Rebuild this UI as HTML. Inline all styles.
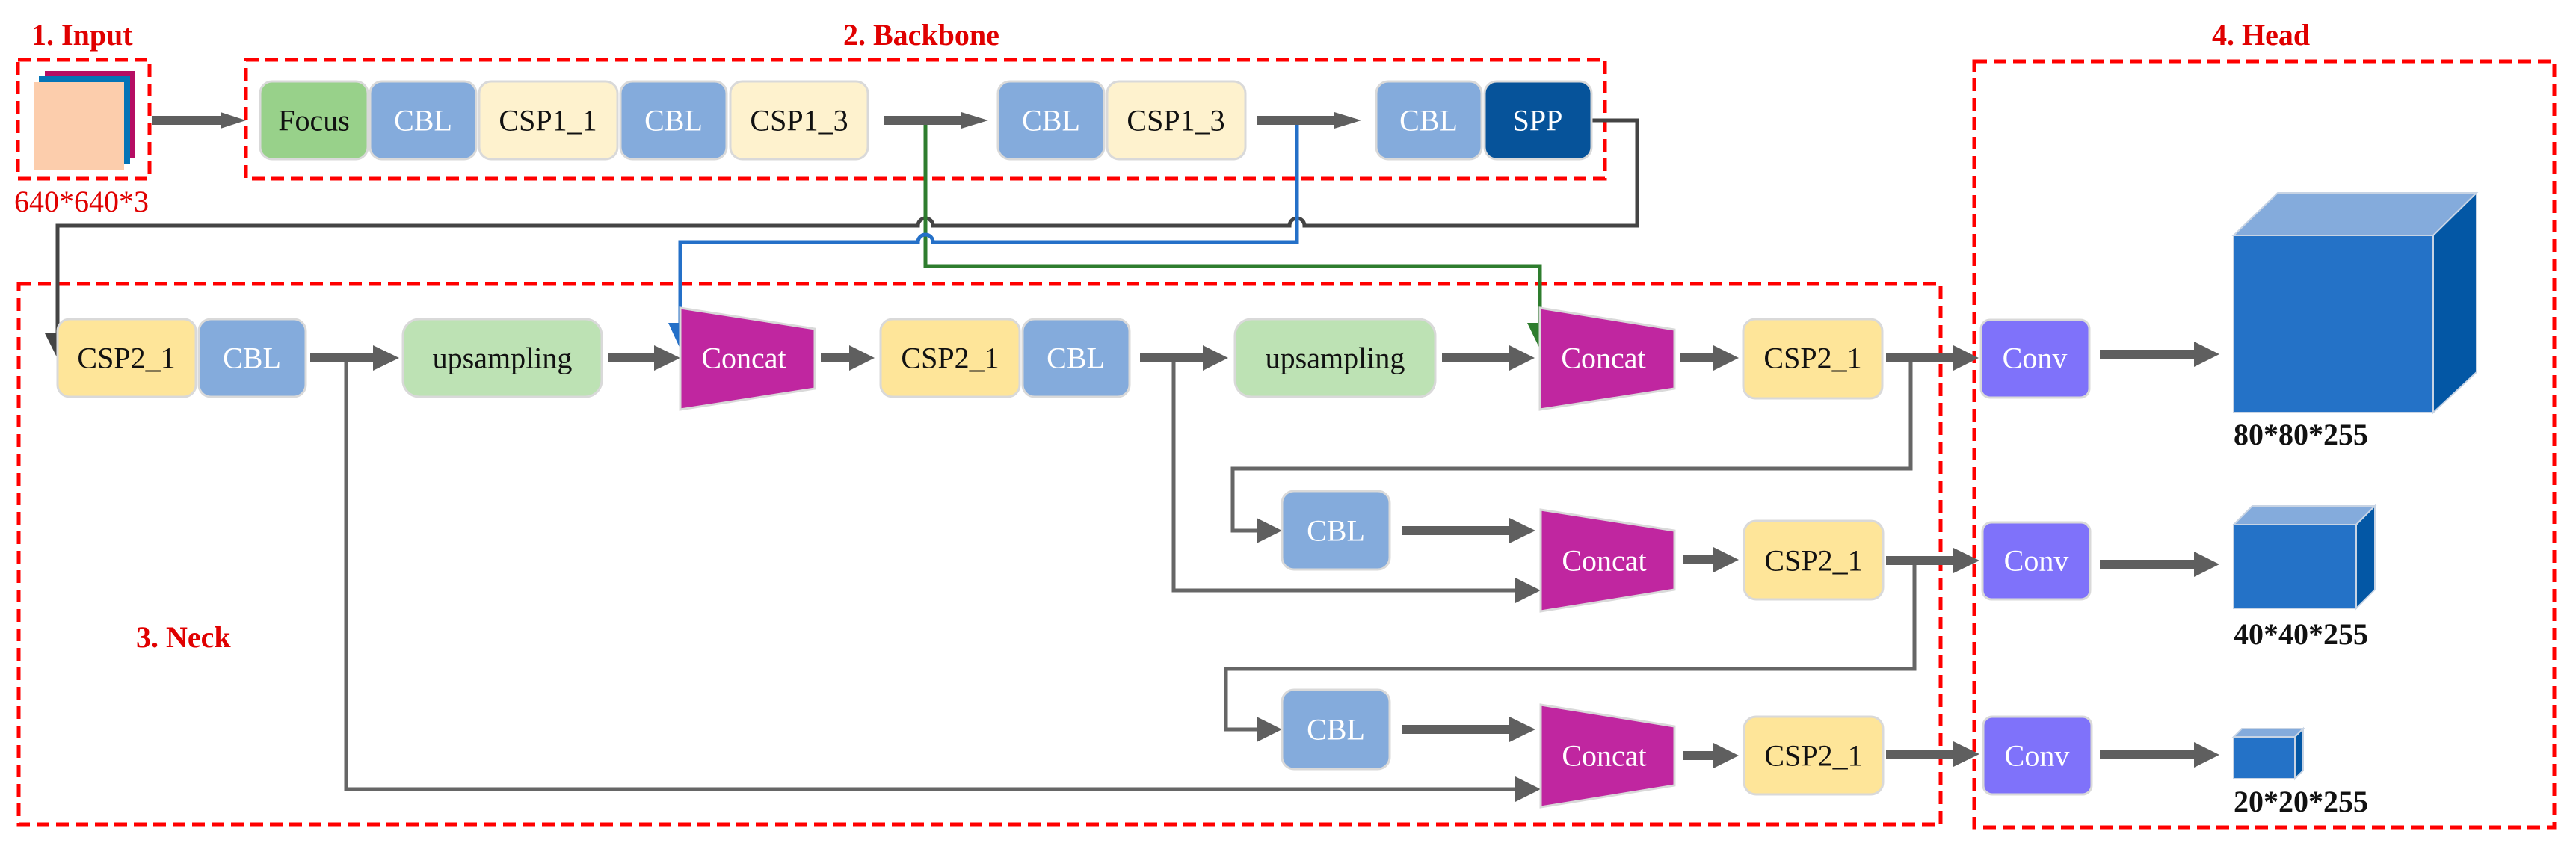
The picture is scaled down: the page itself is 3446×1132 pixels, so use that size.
<!DOCTYPE html>
<html><head><meta charset="utf-8"><style>
html,body{margin:0;padding:0;background:#fff;}
svg{display:block;font-family:"Liberation Serif","Times New Roman",serif;}
text{font-family:"Liberation Serif","Times New Roman",serif;}
</style></head><body>
<svg width="3446" height="1132" viewBox="0 0 3446 1132" xmlns="http://www.w3.org/2000/svg" font-family="Liberation Serif, serif">
<g fill="#e00000" font-weight="bold" font-size="40">
<text x="42" y="60">1. Input</text>
<text x="1128" y="60">2. Backbone</text>
<text x="2959" y="60">4. Head</text>
<text x="182" y="866">3. Neck</text>
</g>
<text x="19" y="283" fill="#e00000" font-size="40">640*640*3</text>

<g fill="none" stroke="#ff0000" stroke-width="5" stroke-dasharray="17 9">
<rect x="24" y="80" width="176" height="159"/>
<rect x="329" y="80" width="1818" height="159"/>
<rect x="25" y="380" width="2571" height="723"/>
<rect x="2641" y="82" width="776" height="1025"/>
</g>

<rect x="60" y="95" width="121" height="117" fill="#b50d63"/>
<rect x="52" y="102" width="122" height="118" fill="#0474b7"/>
<rect x="45" y="110" width="121" height="117" fill="#fccdac"/>

<g fill="none" stroke-width="5" stroke-linejoin="miter">
<path d="M2129 161 H2190 V302 H1745 A10 10 0 0 0 1725 302 H1248 A10 10 0 0 0 1228 302 H77 V450" stroke="#444"/>
<path d="M1238 161 V356 H2060 V436" stroke="#2e7d2e"/>
<path d="M1735 161 V324 H1248 A10 10 0 0 0 1228 324 H910 V436" stroke="#2470c8"/>
<path d="M463 479 V1056 H2030" stroke="#666"/>
<path d="M1570 479 V790 H2030" stroke="#666"/>
<path d="M2556 479 V627 H1649 V710 H1685" stroke="#666"/>
<path d="M2561 750 V895 H1640 V976 H1685" stroke="#666"/>
</g>
<g>
<polygon points="60,446 94,446 77,480" fill="#444"/>
<polygon points="2043,432 2078,432 2060,467" fill="#2e7d2e"/>
<polygon points="894,432 928,432 910,467" fill="#2470c8"/>
<polygon points="2027,1039 2061,1056 2027,1073" fill="#5f5f5f"/>
<polygon points="2027,773 2061,790 2027,807" fill="#5f5f5f"/>
<polygon points="1681,693 1715,710 1681,727" fill="#5f5f5f"/>
<polygon points="1681,959 1715,976 1681,993" fill="#5f5f5f"/>
</g>

<g fill="#5f5f5f">
<rect x="203" y="155" width="96" height="12"/><polygon points="295,150 329,161 295,172"/>
<rect x="1182" y="155" width="106" height="12"/><polygon points="1286,150 1322,161 1286,172"/>
<rect x="1681" y="155" width="106" height="12"/><polygon points="1785,150 1821,161 1785,172"/>

<rect x="415" y="473" width="86" height="12"/><polygon points="499,462 534,479 499,496"/>
<rect x="813" y="473" width="64" height="12"/><polygon points="875,462 910,479 875,496"/>
<rect x="1098" y="473" width="40" height="12"/><polygon points="1136,462 1170,479 1136,496"/>
<rect x="1525" y="473" width="86" height="12"/><polygon points="1609,462 1643,479 1609,496"/>
<rect x="1929" y="473" width="92" height="12"/><polygon points="2019,462 2053,479 2019,496"/>
<rect x="2248" y="473" width="46" height="12"/><polygon points="2292,462 2326,479 2292,496"/>
<rect x="2523" y="473" width="92" height="12"/><polygon points="2613,462 2647,479 2613,496"/>
<rect x="2809" y="468" width="128" height="12"/><polygon points="2935,457 2969,474 2935,491"/>

<rect x="1875" y="704" width="146" height="12"/><polygon points="2019,693 2054,710 2019,727"/>
<rect x="2252" y="743" width="42" height="12"/><polygon points="2292,732 2326,749 2292,766"/>
<rect x="2523" y="744" width="92" height="12"/><polygon points="2613,733 2648,750 2613,767"/>
<rect x="2809" y="749" width="128" height="12"/><polygon points="2935,738 2969,755 2935,772"/>

<rect x="1875" y="970" width="146" height="12"/><polygon points="2019,959 2054,976 2019,993"/>
<rect x="2252" y="1005" width="42" height="12"/><polygon points="2292,994 2326,1011 2292,1028"/>
<rect x="2523" y="1003" width="92" height="12"/><polygon points="2613,992 2648,1009 2613,1026"/>
<rect x="2809" y="1004" width="128" height="12"/><polygon points="2935,993 2969,1010 2935,1027"/>
</g>

<g stroke="#d9d9d9" stroke-width="3">
<rect x="348" y="109" width="144" height="104" rx="16" fill="#98d18a"/>
<rect x="495" y="109" width="142" height="104" rx="16" fill="#84abdc"/>
<rect x="641" y="109" width="185" height="104" rx="16" fill="#fef2ce"/>
<rect x="830" y="109" width="142" height="104" rx="16" fill="#84abdc"/>
<rect x="977" y="109" width="184" height="104" rx="16" fill="#fef2ce"/>
<rect x="1335" y="109" width="142" height="104" rx="16" fill="#84abdc"/>
<rect x="1481" y="109" width="185" height="104" rx="16" fill="#fef2ce"/>
<rect x="1841" y="109" width="141" height="104" rx="16" fill="#84abdc"/>
<rect x="1986" y="109" width="143" height="104" rx="16" fill="#06539a"/>

<rect x="77" y="427" width="185" height="104" rx="16" fill="#fee599"/>
<rect x="266" y="427" width="143" height="104" rx="16" fill="#84abdc"/>
<rect x="539" y="427" width="266" height="104" rx="22" fill="#bde2b4"/>
<rect x="1178" y="427" width="186" height="104" rx="16" fill="#fee599"/>
<rect x="1368" y="427" width="143" height="104" rx="16" fill="#84abdc"/>
<rect x="1652" y="427" width="268" height="104" rx="22" fill="#bde2b4"/>
<rect x="2332" y="427" width="186" height="106" rx="16" fill="#fee599"/>

<rect x="1715" y="657" width="144" height="105" rx="16" fill="#84abdc"/>
<rect x="2333" y="697" width="186" height="105" rx="16" fill="#fee599"/>
<rect x="1715" y="923" width="144" height="106" rx="16" fill="#84abdc"/>
<rect x="2333" y="959" width="186" height="104" rx="16" fill="#fee599"/>

<rect x="2650" y="428" width="145" height="104" rx="12" fill="#7f72fa"/>
<rect x="2652" y="699" width="144" height="103" rx="12" fill="#7f72fa"/>
<rect x="2653" y="959" width="145" height="104" rx="12" fill="#7f72fa"/>

<polygon points="910,412 1090,440 1090,520 910,548" fill="#c026a0"/>
<polygon points="2060,412 2240,441 2240,520 2060,548" fill="#c026a0"/>
<polygon points="2061,682 2240,710 2240,789 2061,818" fill="#c026a0"/>
<polygon points="2061,943 2240,972 2240,1051 2061,1080" fill="#c026a0"/>
</g>

<g stroke="#c8d4e4" stroke-width="2">
<polygon points="2988,315 3047,258 3313,258 3255,315" fill="#84abdc"/>
<polygon points="3255,315 3313,258 3313,498 3255,552" fill="#0357a5"/>
<rect x="2988" y="315" width="267" height="237" fill="#2472c7"/>
<polygon points="2988,702 3013,677 3177,677 3152,702" fill="#84abdc"/>
<polygon points="3152,702 3177,677 3177,789 3152,814" fill="#0357a5"/>
<rect x="2988" y="702" width="164" height="112" fill="#2472c7"/>
<polygon points="2988,986 2999,975 3081,975 3070,986" fill="#84abdc"/>
<polygon points="3070,986 3081,975 3081,1031 3070,1042" fill="#0357a5"/>
<rect x="2988" y="986" width="82" height="56" fill="#2472c7"/>
</g>
<g font-weight="bold" font-size="40" fill="#111">
<text x="2988" y="595">80*80*255</text>
<text x="2988" y="862">40*40*255</text>
<text x="2988" y="1086">20*20*255</text>
</g>

<g font-size="40" text-anchor="middle" dominant-baseline="central">
<text x="420" y="161" fill="#111">Focus</text>
<text x="566" y="161" fill="#fff">CBL</text>
<text x="733" y="161" fill="#111">CSP1_1</text>
<text x="901" y="161" fill="#fff">CBL</text>
<text x="1069" y="161" fill="#111">CSP1_3</text>
<text x="1406" y="161" fill="#fff">CBL</text>
<text x="1573" y="161" fill="#111">CSP1_3</text>
<text x="1911" y="161" fill="#fff">CBL</text>
<text x="2057" y="161" fill="#fff">SPP</text>

<text x="169" y="479" fill="#111">CSP2_1</text>
<text x="337" y="479" fill="#fff">CBL</text>
<text x="672" y="479" fill="#111">upsampling</text>
<text x="995" y="479" fill="#fff">Concat</text>
<text x="1271" y="479" fill="#111">CSP2_1</text>
<text x="1439" y="479" fill="#fff">CBL</text>
<text x="1786" y="479" fill="#111">upsampling</text>
<text x="2145" y="479" fill="#fff">Concat</text>
<text x="2425" y="479" fill="#111">CSP2_1</text>
<text x="2722" y="479" fill="#fff">Conv</text>

<text x="1787" y="710" fill="#fff">CBL</text>
<text x="2146" y="750" fill="#fff">Concat</text>
<text x="2426" y="750" fill="#111">CSP2_1</text>
<text x="2724" y="750" fill="#fff">Conv</text>

<text x="1787" y="976" fill="#fff">CBL</text>
<text x="2146" y="1011" fill="#fff">Concat</text>
<text x="2426" y="1011" fill="#111">CSP2_1</text>
<text x="2725" y="1011" fill="#fff">Conv</text>
</g>
</svg>
</body></html>
